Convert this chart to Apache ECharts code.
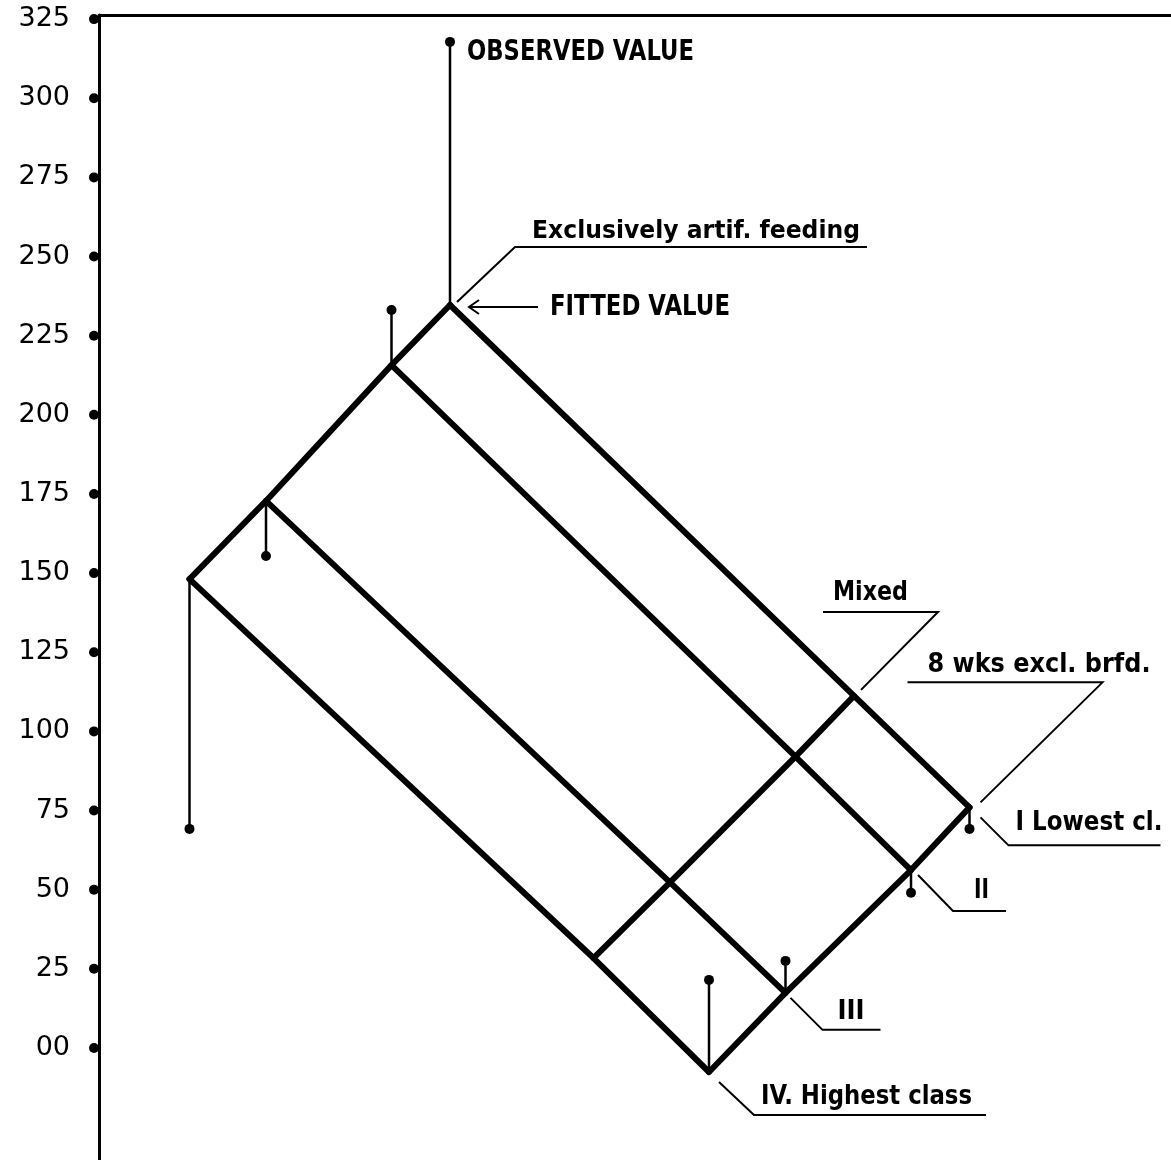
<!DOCTYPE html>
<html>
<head>
<meta charset="utf-8">
<title>Fitted and observed values by class and feeding</title>
<script src="https://cdn.jsdelivr.net/npm/echarts@6/dist/echarts.min.js"></script>
<style>
  html, body { margin: 0; padding: 0; background: #fff; }
  #main { width: 1171px; height: 1160px; }
</style>
</head>
<body>
<div id="main"></div>
<script>
// social class (I = lowest ... IV = highest) and type of feeding
var classes = ['I', 'II', 'III', 'IV'];
var feeding = ['Exclusively artif. feeding', 'Mixed', '8 wks excl. brfd.'];

// horizontal placement of the oblique drawing (feeding depth + class shift)
var feedingPos = [35.1, 75.5, 87.05];
var classShift = [0, -5.85, -18.4, -26.05];

// fitted values per class (I..IV), one array per feeding type
var fittedArtif = [234.7, 215.7, 172.8, 148.1];
var fittedMixed = [111.2, 92.0, 52.3, 28.4];
var fitted8wks = [76.0, 56.2, 17.4, -7.6];

// observed values, only shown for the two extreme feeding types
var observedArtif = [317.8, 233.1, 155.4, 69.2];
var observed8wks = [69.2, 49.0, 27.5, 21.5];

var yTicks = [0, 25, 50, 75, 100, 125, 150, 175, 200, 225, 250, 275, 300, 325];

var fitted = [fittedArtif, fittedMixed, fitted8wks];
var observed = [observedArtif, null, observed8wks];

function xOf(f, c) { return feedingPos[f] + classShift[c]; }

var chart = echarts.init(document.getElementById('main'));

var gridLine = { color: '#000', width: 6, cap: 'round', join: 'round' };
var series = [];

// one line per class, running over the feeding types
classes.forEach(function (cls, c) {
  series.push({
    name: 'Class ' + cls,
    type: 'line',
    symbol: 'none',
    silent: true,
    z: 3,
    lineStyle: gridLine,
    data: feeding.map(function (name, f) { return [xOf(f, c), fitted[f][c]]; })
  });
});
// one line per feeding type, running over the classes
feeding.forEach(function (name, f) {
  series.push({
    name: name,
    type: 'line',
    symbol: 'none',
    silent: true,
    z: 3,
    lineStyle: gridLine,
    data: classes.map(function (cls, c) { return [xOf(f, c), fitted[f][c]]; })
  });
});

// stems from fitted to observed value
var stemData = [];
[0, 2].forEach(function (f) {
  classes.forEach(function (cls, c) {
    stemData.push([xOf(f, c), fitted[f][c], observed[f][c]]);
  });
});
series.push({
  name: 'Observed',
  type: 'custom',
  z: 2,
  silent: true,
  data: stemData,
  encode: { x: 0, y: [1, 2] },
  renderItem: function (params, api) {
    var base = api.coord([api.value(0), api.value(1)]);
    var top = api.coord([api.value(0), api.value(2)]);
    return {
      type: 'group',
      children: [
        { type: 'line', shape: { x1: base[0], y1: base[1], x2: top[0], y2: top[1] },
          style: { stroke: '#000', lineWidth: 2.5 } },
        { type: 'circle', shape: { cx: top[0], cy: top[1], r: 5 }, style: { fill: '#000' } }
      ]
    };
  }
});

// dots on the y axis at each tick
series.push({
  type: 'scatter',
  silent: true,
  clip: false,
  symbolSize: 10,
  symbolOffset: [-5, 0],
  itemStyle: { color: '#000', opacity: 1 },
  data: yTicks.map(function (t) { return [0, t]; })
});

chart.setOption({
  animation: false,
  backgroundColor: '#fff',
  grid: { left: 99, right: 0, top: 15, bottom: 0 },
  xAxis: {
    type: 'value',
    position: 'top',
    min: 0,
    max: 107.2,
    axisLine: { show: true, onZero: false, lineStyle: { color: '#000', width: 3 } },
    axisTick: { show: false },
    axisLabel: { show: false },
    splitLine: { show: false }
  },
  yAxis: {
    type: 'value',
    min: -35.4,
    max: 326.3,
    axisLine: { show: true, onZero: false, lineStyle: { color: '#000', width: 3 } },
    axisTick: { show: false },
    splitLine: { show: false },
    axisLabel: {
      customValues: yTicks,
      margin: 29,
      color: '#000',
      fontFamily: 'DejaVu Sans',
      fontSize: 27,
      formatter: function (v) { return v === 0 ? '00' : String(v); }
    }
  },
  series: series
});

// annotations, placed relative to the points they describe
var ctx = document.createElement('canvas').getContext('2d');
function toPx(f, c, values) {
  return chart.convertToPixel({ gridIndex: 0 }, [xOf(f, c), values[f][c]]);
}
function at(p, dx, dy) { return [p[0] + dx, p[1] + dy]; }
function label(text, pos, size, width) {
  var font = 'bold ' + size + 'px "DejaVu Sans"';
  ctx.font = font;
  var w = ctx.measureText(text).width;
  return {
    type: 'text', x: pos[0], y: pos[1], scaleX: width / w, z: 10, silent: true,
    style: { text: text, font: font, fill: '#000', align: 'left', verticalAlign: 'middle' }
  };
}
function seg(points, lw) {
  return {
    type: 'polyline', z: 10, silent: true,
    shape: { points: points },
    style: { stroke: '#000', lineWidth: lw || 2, fill: null }
  };
}

var pObs = toPx(0, 0, observed);
var pArt = toPx(0, 0, fitted);
var pMix = toPx(1, 0, fitted);
var pI = toPx(2, 0, fitted);
var pII = toPx(2, 1, fitted);
var pIII = toPx(2, 2, fitted);
var pIV = toPx(2, 3, fitted);

chart.setOption({
  graphic: [
    label('OBSERVED VALUE', at(pObs, 17, 11), 28, 227),

    seg([at(pArt, 7, -3), at(pArt, 65, -58), at(pArt, 417, -58)]),
    label('Exclusively artif. feeding', at(pArt, 82, -73), 25, 328),
    seg([at(pArt, 88, 2), at(pArt, 19, 2)]),
    seg([at(pArt, 29, -5), at(pArt, 19, 2), at(pArt, 29, 9)]),
    label('FITTED VALUE', at(pArt, 100, 3), 28, 180),

    seg([at(pMix, 7, -6), at(pMix, 84, -84), at(pMix, -31, -84)]),
    label('Mixed', at(pMix, -21, -103), 26, 75),

    seg([at(pI, 11, -5), at(pI, 133, -125), at(pI, -62, -125)]),
    label('8 wks excl. brfd.', at(pI, -42, -142), 26, 223),

    seg([at(pI, 11, 10), at(pI, 39, 38), at(pI, 191, 38)]),
    label('I Lowest cl.', at(pI, 46, 16), 27, 147),

    seg([at(pII, 7, 5), at(pII, 42, 41), at(pII, 95, 41)]),
    label('II', at(pII, 63, 21), 26, 15),

    seg([at(pIII, 5, 5), at(pIII, 37, 37), at(pIII, 95, 37)]),
    label('III', at(pIII, 52, 19), 26, 27),

    seg([at(pIV, 10, 10), at(pIV, 45, 43), at(pIV, 277, 43)]),
    label('IV. Highest class', at(pIV, 52, 25), 27, 211)
  ]
});
</script>
</body>
</html>
